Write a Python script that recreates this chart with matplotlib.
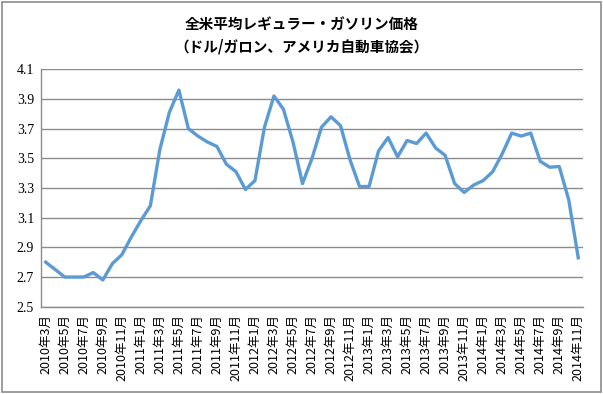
"""US average regular gasoline price, monthly line chart."""

import matplotlib

matplotlib.use("Agg")
import matplotlib.pyplot as plt
from matplotlib.patches import Rectangle

plt.rcParams["font.family"] = ["Noto Sans CJK JP", "DejaVu Sans"]

# months from 2010-03 to 2014-11
start_year, start_month = 2010, 3
prices = [
    2.80, 2.75, 2.70, 2.70, 2.70, 2.73, 2.68, 2.79, 2.85, 2.97,
    3.08, 3.18, 3.56, 3.81, 3.96, 3.70, 3.65, 3.61, 3.58, 3.46,
    3.41, 3.29, 3.35, 3.71, 3.92, 3.83, 3.61, 3.33, 3.50, 3.71,
    3.78, 3.72, 3.49, 3.31, 3.31, 3.55, 3.64, 3.51, 3.62, 3.60,
    3.67, 3.57, 3.52, 3.33, 3.27, 3.32, 3.35, 3.41, 3.53, 3.67,
    3.65, 3.67, 3.48, 3.44, 3.445, 3.22, 2.83,
]
month_labels = []
for i in range(len(prices)):
    m = start_month - 1 + i
    month_labels.append("{}年{}月".format(start_year + m // 12, m % 12 + 1))
y_ticks = [2.5, 2.7, 2.9, 3.1, 3.3, 3.5, 3.7, 3.9, 4.1]
title = "全米平均レギュラー・ガソリン価格\n（ドル/ガロン、アメリカ自動車協会）"

fig = plt.figure(figsize=(6.03, 3.94), dpi=100)
fig.patches.append(Rectangle((0.004, 0.004), 0.992, 0.99, transform=fig.transFigure,
                             fill=False, edgecolor="#8c8c8c", linewidth=1.2))
ax = fig.add_axes([41 / 603, 1 - 306.7 / 394, 542 / 603, 237.4 / 394])

x = list(range(len(prices)))
ax.plot(x, prices, color="#5b9bd5", linewidth=2.4, solid_joinstyle="round")

ax.set_xlim(-0.5, len(prices) - 0.5)
ax.set_ylim(2.5, 4.1)
ax.set_yticks(y_ticks)
ax.set_yticklabels(["{:.1f}".format(v) for v in y_ticks], fontsize=10,
                   family=["Liberation Serif"])
ax.yaxis.grid(True, color="#8c8c8c", linewidth=1.0)
ax.set_axisbelow(True)

ax.set_xticks(x[::2])
ax.set_xticklabels(month_labels[::2], rotation=90, fontsize=9, va="top")
ax.tick_params(axis="both", length=0, pad=5)

for side in ["top", "right"]:
    ax.spines[side].set_visible(False)
for side in ["left", "bottom"]:
    ax.spines[side].set_color("#8c8c8c")
    ax.spines[side].set_linewidth(1.0)

fig.text(0.5, 0.96, title, ha="center", va="top", fontsize=10.5, fontweight="bold",
         linespacing=1.55)

fig.savefig("out.png", dpi=100)
